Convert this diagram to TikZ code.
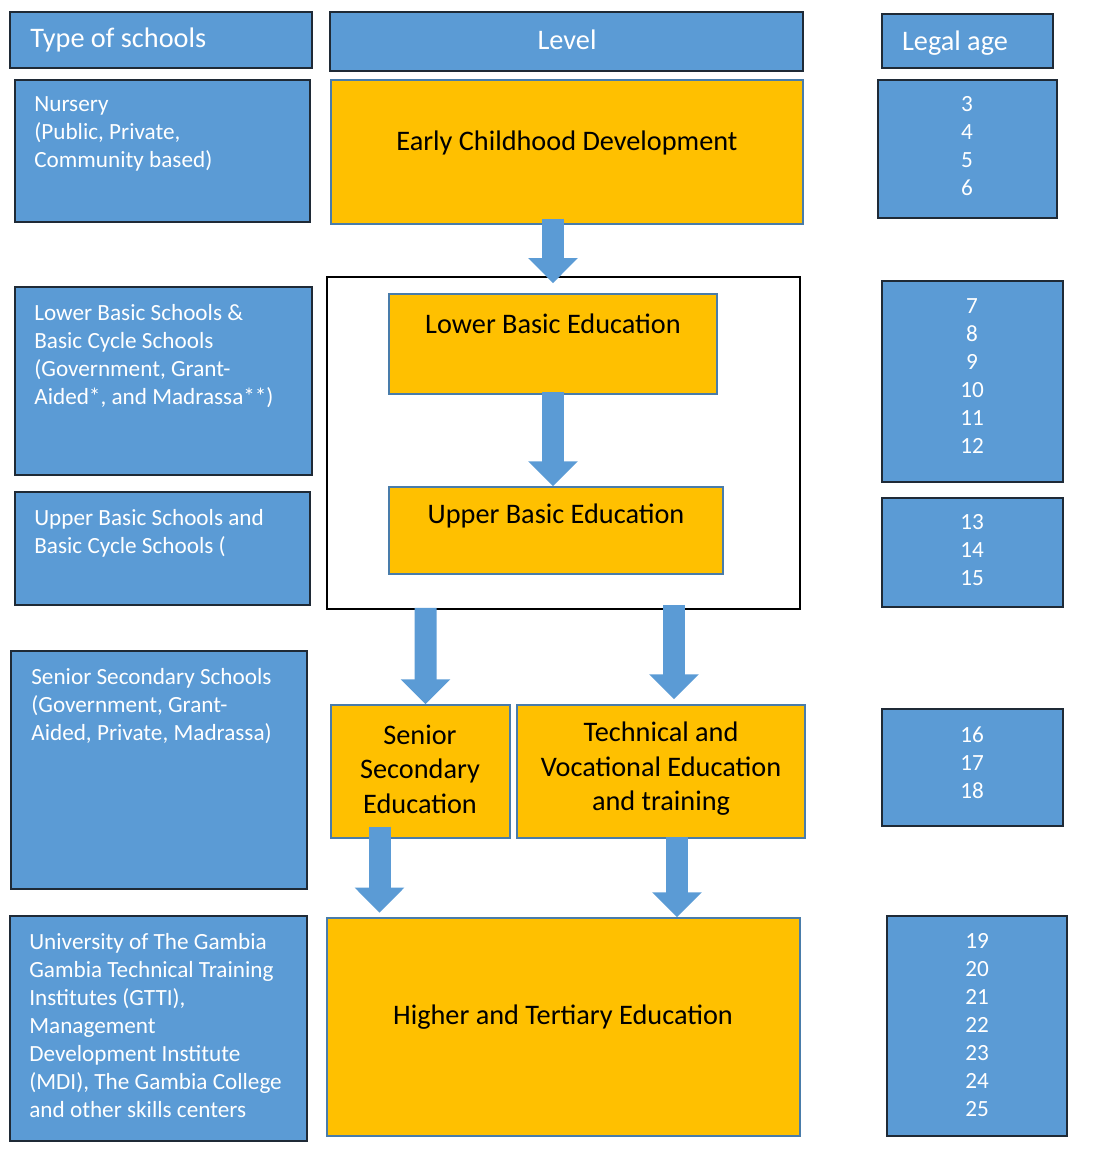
\documentclass[tikz,border=0pt]{standalone}
\usepackage{fontspec}
\setmainfont{Carlito}
\usetikzlibrary{arrows.meta,fit}
\definecolor{boxblue}{HTML}{5B9BD5}
\definecolor{boxorange}{HTML}{FFC000}
\definecolor{boxedge}{HTML}{1F2A36}
\tikzset{
  bluebox/.style={draw=boxedge, fill=boxblue, line width=1.1pt, inner sep=0pt},
  levelbox/.style={draw=boxblue!80!black, fill=boxorange, line width=0.8pt, inner sep=0pt},
  headtext/.style={text=white, inner sep=0pt, font=\fontsize{16.1}{19}\selectfont},
  schooltext/.style={anchor=north west, align=left, inner sep=0pt, text=white,
    font=\fontsize{13.2}{15.94}\selectfont},
  agetext/.style={anchor=north, align=center, inner sep=0pt, text=white,
    font=\fontsize{13.2}{15.94}\selectfont},
  leveltext/.style={align=center, inner sep=0pt, font=\fontsize{16.1}{19.6}\selectfont},
  flow/.style={draw=boxblue, line width=0.44cm, -{Triangle[width=0.96cm,length=0.5cm]}}
}
\begin{document}
\begin{tikzpicture}[x=0.02cm, y=-0.02cm]
\useasboundingbox (0,0) rectangle (1096,1167);

% headers
\node[bluebox, fit={(10,12) (312,68)}] (typehead) {};
\node[headtext, anchor=west] (typelbl) at (30,40) {Type of schools};
\node[bluebox, fit={(330,12) (803,71)}] (levelhead) {};
\node[headtext] (levellbl) at (567,40) {Level};
\node[bluebox, fit={(882,14) (1053,68)}] (agehead) {};
\node[headtext] (agelbl) at (955,43) {Legal age};

% early childhood
\node[bluebox, fit={(15,80) (310,222)}] (nursery) {};
\node[schooltext] (nurserylbl) at (34,96) {Nursery\\(Public, Private,\\Community based)};
\node[levelbox, fit={(331,80) (803,224)}] (ecd) {};
\node[leveltext] (ecdlbl) at (567,143) {Early Childhood Development};
\node[bluebox, fit={(878,80) (1057,218)}] (ageecd) {};
\node[agetext] (ageecdlbl) at (967,96) {3\\4\\5\\6};

% basic cycle
\node[draw=black, line width=1pt, inner sep=0pt, fit={(327,277) (800,609)}] (basic) {};
\node[levelbox, fit={(389,294) (717,394)}] (lower) {};
\node[leveltext] (lowerlbl) at (553,324) {Lower Basic Education};
\node[levelbox, fit={(389,487) (723,574)}] (upper) {};
\node[leveltext] (upperlbl) at (556,516) {Upper Basic Education};

\node[bluebox, fit={(15,287) (312,475)}] (lbschools) {};
\node[schooltext] (lbschoolslbl) at (34,304) {Lower Basic Schools \&\\Basic Cycle Schools\\(Government, Grant-\\Aided*, and Madrassa**)};
\node[bluebox, fit={(882,281) (1063,482)}] (agelower) {};
\node[agetext] (agelowerlbl) at (972,298) {7\\8\\9\\10\\11\\12};

\node[bluebox, fit={(15,492) (310,605)}] (ubschools) {};
\node[schooltext] (ubschoolslbl) at (34,509) {Upper Basic Schools and\\Basic Cycle Schools (};
\node[bluebox, fit={(882,498) (1063,607)}] (ageupper) {};
\node[agetext] (ageupperlbl) at (972,514) {13\\14\\15};

% senior secondary
\node[bluebox, fit={(11,651) (307,889)}] (ssschools) {};
\node[schooltext] (ssschoolslbl) at (31,668) {Senior Secondary Schools\\(Government, Grant-\\Aided, Private, Madrassa)};
\node[levelbox, fit={(331,705) (510,838)}] (senior) {};
\node[leveltext] (seniorlbl) at (420,769) {Senior\\Secondary\\Education};
\node[levelbox, fit={(517,705) (805,838)}] (tvet) {};
\node[leveltext] (tvetlbl) at (661,769) {Technical and\\Vocational Education\\and training};
\node[bluebox, fit={(882,709) (1063,826)}] (agesenior) {};
\node[agetext] (ageseniorlbl) at (972,726) {16\\17\\18};

% higher
\node[bluebox, fit={(10,916) (307,1141)}] (hschools) {};
\node[schooltext] (hschoolslbl) at (29,933) {University of The Gambia\\Gambia Technical Training\\Institutes (GTTI),\\Management\\Development Institute\\(MDI), The Gambia College\\and other skills centers};
\node[levelbox, fit={(327,918) (800,1136)}] (higher) {};
\node[leveltext] (higherlbl) at (563,1017) {Higher and Tertiary Education};
\node[bluebox, fit={(887,916) (1067,1136)}] (agehigher) {};
\node[agetext] (agehigherlbl) at (977,933) {19\\20\\21\\22\\23\\24\\25};

% arrows
\path (basic.north -| lower.north) ++(0,7) coordinate (ecdtip);
\draw[flow] (ecd.south -| lower.north) ++(0,-6) -- (ecdtip);
\draw[flow] (lower.south) ++(0,-3) -- (upper.north -| lower.south);
\draw[flow] (basic.south -| senior.north) ++(5,-2) -- ([xshift=0.1cm]senior.north);
\path (tvet.north) ++(13,-5) coordinate (tvetin);
\draw[flow] (basic.south -| tvetin) ++(0,-5) -- (tvetin);
\path (senior.south) ++(-41,-12) coordinate (ssout);
\draw[flow] (ssout) -- ++(0,86);
\path (tvet.south) ++(16,-2) coordinate (tvout);
\draw[flow] (tvout) -- (tvout |- higher.north);
\end{tikzpicture}
\end{document}
